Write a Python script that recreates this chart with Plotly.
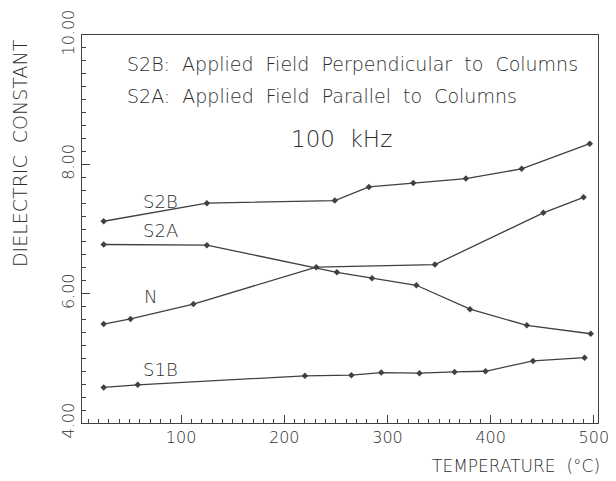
import plotly.graph_objects as go

# ---- data ----
temp_s2b = [25, 125, 249, 282, 325, 376, 430, 496]
s2b_vals = [7.12, 7.40, 7.44, 7.65, 7.71, 7.78, 7.93, 8.32]

temp_s2a = [25, 125, 251, 285, 328, 380, 435, 497]
s2a_vals = [6.76, 6.75, 6.33, 6.24, 6.13, 5.76, 5.51, 5.38]

temp_n = [25, 51, 112, 231, 346, 451, 490]
n_vals = [5.53, 5.61, 5.84, 6.41, 6.45, 7.25, 7.49]

temp_s1b = [25, 58, 220, 265, 294, 331, 365, 395, 441, 491]
s1b_vals = [4.55, 4.59, 4.73, 4.74, 4.78, 4.77, 4.79, 4.80, 4.96, 5.01]

x_tickvals = [100, 200, 300, 400, 500]
y_tickvals = [4, 6, 8, 10]

FONT = "DejaVu Sans"
INK = "#2e2e2e"
LINE = "#404040"

fig = go.Figure()
for xs, ys, name in [(temp_s2b, s2b_vals, "S2B"), (temp_s2a, s2a_vals, "S2A"),
                     (temp_n, n_vals, "N"), (temp_s1b, s1b_vals, "S1B")]:
    fig.add_trace(go.Scatter(
        x=xs, y=ys, name=name, mode="lines+markers",
        line=dict(color=LINE, width=1.3),
        marker=dict(symbol="diamond", size=5, color=LINE),
        showlegend=False, cliponaxis=False))

ann = []
def txt(x, y, s, size, xref="x", yref="y", xanchor="center", **kw):
    ann.append(dict(x=x, y=y, xref=xref, yref=yref, text=s, showarrow=False,
                    xanchor=xanchor, yanchor="middle",
                    font=dict(family=FONT, size=size, color=INK, weight=200), **kw))

NB = "\u00a0"
txt(80, 7.43, "S2B", 18)
txt(80, 6.97, "S2A", 18)
txt(70, 5.95, "N", 18)
txt(80, 4.82, "S1B", 18)
txt(0.083, 0.925, ("S2B:" + NB + " Applied" + NB + " Field" + NB + " Perpendicular" + NB + " to" + NB + " Columns"), 19, xref="paper", yref="paper", xanchor="left")
txt(0.083, 0.843, ("S2A:" + NB + " Applied" + NB + " Field" + NB + " Parallel" + NB + " to" + NB + " Columns"), 19, xref="paper", yref="paper", xanchor="left")
txt(0.502, 0.732, "100" + NB + " kHz", 23, xref="paper", yref="paper")
# x-axis "0" label (the axis starts a little right of 0)
txt(0, 3.72, "0", 16)
# axis titles
ann.append(dict(x=-0.12, y=0.696, xref="paper", yref="paper", text="DIELECTRIC" + NB + " CONSTANT",
                showarrow=False, textangle=-90, xanchor="center", yanchor="middle",
                font=dict(family=FONT, size=19, color=INK, weight=200)))
ann.append(dict(x=1.008, y=-0.112, xref="paper", yref="paper", text="TEMPERATURE" + NB + " (°C)",
                showarrow=False, xanchor="right", yanchor="middle",
                font=dict(family=FONT, size=17, color=INK, weight=200)))

# the page body has an 8px default margin, so the figure is 8px smaller
fig.update_layout(
    width=608, height=473, autosize=False,
    margin=dict(l=74, r=18, t=27, b=58),
    paper_bgcolor="white", plot_bgcolor="white",
    annotations=ann,
    xaxis=dict(range=[4, 504], tickvals=x_tickvals, ticks="inside", ticklen=8, automargin=False,
               tickcolor=LINE, showline=True, linecolor=LINE, linewidth=1.3, mirror=True,
               showgrid=False, zeroline=False,
               tickfont=dict(family=FONT, size=16, color=INK, weight=200),
               minor=dict(dtick=10, tick0=0, ticks="inside", ticklen=4, tickcolor=LINE, showgrid=False)),
    yaxis=dict(range=[4, 10], tickvals=y_tickvals, tickformat=".2f", ticks="inside", ticklen=8,
               automargin=False,
               tickangle=-90, tickcolor=LINE, showline=True, linecolor=LINE, linewidth=1.3, mirror=True,
               showgrid=False, zeroline=False,
               tickfont=dict(family=FONT, size=16, color=INK, weight=200),
               minor=dict(dtick=0.2, tick0=0, ticks="inside", ticklen=4, tickcolor=LINE, showgrid=False)),
)

fig.write_html("out.html")
